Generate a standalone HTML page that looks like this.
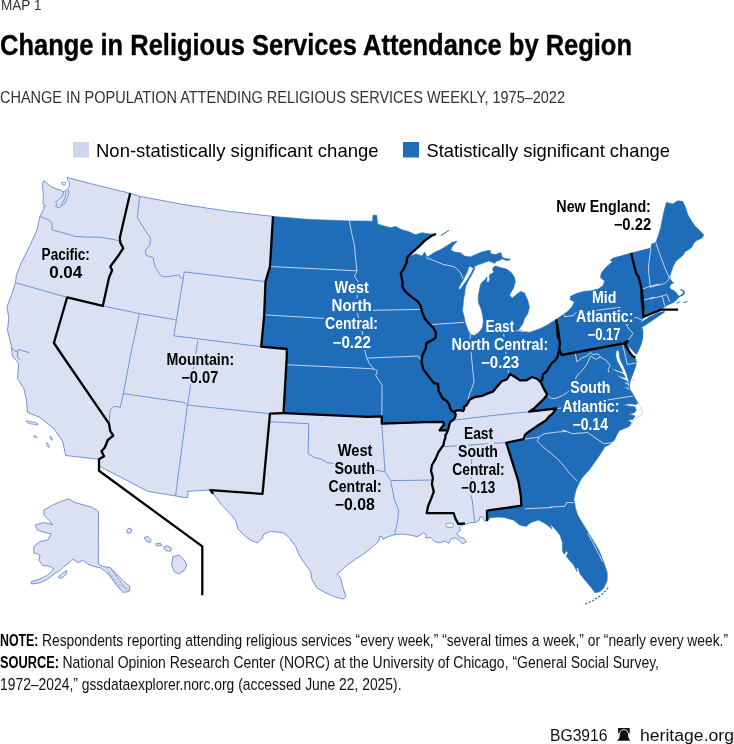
<!DOCTYPE html>
<html><head><meta charset="utf-8"><title>Change in Religious Services Attendance by Region</title>
<style>html,body{margin:0;padding:0;background:#fff}svg{display:block}text{font-family:"Liberation Sans",sans-serif}</style></head>
<body><svg width="734" height="744" viewBox="0 0 734 744">
<defs>
<filter id="hL" color-interpolation-filters="sRGB" x="-10%" y="-30%" width="120%" height="160%"><feMorphology in="SourceAlpha" operator="dilate" radius="2.2" result="d"/><feFlood flood-color="#dbe1f3"/><feComposite in2="d" operator="in"/><feMerge><feMergeNode/><feMergeNode in="SourceGraphic"/></feMerge></filter>
<filter id="hD" color-interpolation-filters="sRGB" x="-10%" y="-30%" width="120%" height="160%"><feMorphology in="SourceAlpha" operator="dilate" radius="2.2" result="d"/><feFlood flood-color="#1f6db9"/><feComposite in2="d" operator="in"/><feMerge><feMergeNode/><feMergeNode in="SourceGraphic"/></feMerge></filter>
</defs>
<rect width="734" height="744" fill="#fff"/>
<g id="map">
<path d="M43.9,180.6 L50.4,186.3 L57,189.2 L60.2,189.8 L62.7,191.7 L64.7,191.1 L66.8,189.6 L68.4,187.6 L69.4,185.5 L69.6,183.1 L67.8,180.6 L67.2,177.4 L90,183.5 L130.1,193.3 L139.6,196.3 L184,204.6 L229.1,211.4 L273,216.4 L270,266.5 L265.5,281.6 L264.2,315.4 L261.2,346.7 L286.8,349 L286.8,356 L283.5,413.2 L368,416.9 L381.8,416.4 L381.8,423.7 L425,422.2 L443.1,421.9 L444.1,424.3 L442,427 L439.6,430.4 L447.8,430.4 L448.5,428.4 L449.2,425 L450.2,422.2 L452.2,420.5 L454.3,418.8 L455.3,416.8 L455.7,414.1 L454,412 L456.3,410.7 L459.7,410.1 L463.1,411 L464.2,409.3 L463.8,406.9 L466.6,405.2 L468.3,402.5 L469.3,400.1 L472,398.4 L475,397 L482.3,395.8 L488,393.4 L492.9,391.7 L497,386.8 L501.9,381.1 L506.8,379.5 L510.1,374.1 L515,377 L519.9,380.3 L526.5,380.3 L532.2,377 L537.4,379 L540.7,382.3 L544,388.9 L547.2,394.6 L544,398.7 L539,403.6 L534.1,408.5 L529.2,411.7 L542.3,410.1 L556.2,408.5 L552.9,413.4 L548.9,416.6 L545.6,420.7 L539,424.8 L534.1,428.1 L529.2,431.4 L525.1,434.6 L523.5,439.2 L506.3,442.8 L518.4,481.3 L520.9,496.4 L521.4,505.7 L490,510.1 L486.9,510.8 L487.1,520.9 L486.9,521.3 L484.4,520.9 L482.8,517.2 L480.4,516.3 L479.2,520.4 L476.3,522.1 L469.7,522.9 L464.8,524.5 L461.6,525.3 L459.1,527 L460.7,530.2 L456.6,533.5 L459.1,536.8 L464,538.4 L466.5,541.7 L462.4,543.8 L459.1,540.1 L455,537.9 L450.9,539.2 L448.5,543.3 L445.2,540.9 L440.3,542.8 L434.6,541.7 L430.5,537.6 L425.6,537.9 L426.4,535.1 L423.1,532.7 L420.7,534.7 L417.4,536.8 L410.9,535.1 L402.7,534 L394.5,534.7 L388,536.8 L382.8,539.2 L381.4,536 L379,536.8 L379.8,539.2 L376.5,543.3 L370,549 L362,555.2 L355.7,559 L346.9,565.2 L341.9,570.2 L336.9,574 L340.7,577.8 L342.4,585.3 L345.7,596.6 L343.2,599.1 L334.4,596.6 L325.6,592.8 L316.9,587.8 L311.8,579 L310.6,571.5 L304.3,562.7 L299.3,555.2 L295.6,546.4 L289.3,537.7 L283,532.6 L270.5,531.4 L264.2,533.9 L261.7,538.9 L258,542.7 L252.9,541.4 L245.4,536.4 L237.9,528.9 L235.4,520.1 L230.4,513.8 L221.6,505.1 L215.3,496.3 L210.8,490 L187.8,491.3 L187.8,497.5 L184,497.5 L175.5,495.9 L147.9,491.4 L99.8,466.3 L99,459.3 L65.7,455.5 L62.7,441.2 L53.9,428.7 L40.1,417.4 L27.6,412.4 L26.3,399.9 L23.8,388.6 L17.5,378.6 L18.8,363.5 L12.5,356 L11.3,345.5 L7.5,330.4 L8.8,317.9 L7,306.6 L11.3,295.3 L15.5,282.8 L16.3,275.3 L21.3,262.8 L30.1,245.2 L36.9,230 L39,220.7 L39.8,216.6 L41.9,212.5 L43.9,208.4 L43.5,206.8 L45.5,206 L43.1,204.3 L43.1,199.4 L43.5,194.5 L42.7,189.6 L42.3,184.7 L43.9,180.6Z" fill="#dbe1f3" stroke="#7094d6" stroke-width="1" stroke-linejoin="round"/>
<path d="M68.9,498.8 L75.2,502.6 L84,505.1 L91.5,507.1 L98.5,511.3 L98.3,564 L102.8,566.5 L110.3,567.7 L117.8,575.3 L125.3,582.8 L129.9,586.5 L129.1,591.6 L122.8,592.3 L116.6,585.3 L110.3,576.5 L105.3,571.5 L100.3,567.7 L94,566.5 L87.7,564 L82.7,560.2 L77.7,562.7 L72.7,559 L67.7,564 L63.9,566.5 L60.2,570.2 L53.9,574 L47.6,579 L40.1,582.8 L31.3,584 L31.3,581.5 L40.1,579 L47.6,575.3 L53.9,569 L50.1,566.5 L42.6,565.2 L38.9,560.2 L40.1,555.2 L33.8,552.7 L33.8,546.4 L40.1,541.4 L47.6,540.2 L51.4,533.9 L45.1,532.6 L37.6,530.1 L35.1,525.1 L43.9,522.6 L50.1,523.9 L52.6,525.1 L48.9,520.1 L43.9,515.1 L43.9,510.1 L52.6,505.1 L61.4,501.3Z" fill="#dbe1f3" stroke="#7094d6" stroke-width="1" stroke-linejoin="round"/>
<path d="M58.2,577.3 L62.7,572.8 L66.7,570.7 L65.7,574.8 L61.4,578.3Z" fill="#dbe1f3" stroke="#7094d6" stroke-width="1" stroke-linejoin="round"/>
<path d="M440.5,235.3L444,233L448.7,230L449,230.8L445,233.6L441,235.9Z" fill="#1f6db9"/>
<path d="M26.3,420.7 L31.3,421.7 L37.6,423.2 L38.1,424.7 L32.1,424.2 L27.1,422.7Z" fill="#dbe1f3" stroke="#7094d6" stroke-width="0.8" stroke-linejoin="round"/>
<path d="M33.8,435.7 L36.6,436.2 L36.9,437.7 L34.3,437.2Z" fill="#dbe1f3" stroke="#7094d6" stroke-width="0.8" stroke-linejoin="round"/>
<path d="M46.6,442.5 L48.6,444.2 L49.1,447.7 L47.1,446.2Z" fill="#dbe1f3" stroke="#7094d6" stroke-width="0.8" stroke-linejoin="round"/>
<path d="M49.6,436.2 L52.1,437.7 L52.6,440.2 L50.4,439.2Z" fill="#dbe1f3" stroke="#7094d6" stroke-width="0.8" stroke-linejoin="round"/>
<path d="M126.6,530.1 L129.1,528.1 L131.9,529.6 L130.9,532.6 L127.8,533.1Z" fill="#dbe1f3" stroke="#7094d6" stroke-width="1" stroke-linejoin="round"/>
<path d="M144.1,537.7 L147.9,536.4 L150.9,539.7 L149.9,542.7 L146.6,541.4Z" fill="#dbe1f3" stroke="#7094d6" stroke-width="1" stroke-linejoin="round"/>
<path d="M155.4,543.9 L160.4,543.2 L161.7,545.7 L156.7,545.9Z" fill="#dbe1f3" stroke="#7094d6" stroke-width="1" stroke-linejoin="round"/>
<path d="M163.4,547.2 L167.5,545.7 L171.5,548.2 L170.5,551.2 L166,550.7Z" fill="#dbe1f3" stroke="#7094d6" stroke-width="1" stroke-linejoin="round"/>
<path d="M173,556.5 L179.2,555.2 L184,559.7 L186.8,565.2 L184,570.7 L178.5,574 L174.2,571.5 L171.7,565.2Z" fill="#dbe1f3" stroke="#7094d6" stroke-width="1" stroke-linejoin="round"/>
<path d="M273,216.4 L309.3,219.4 L349.4,220.9 L368,221.1 L372.5,221.4 L373,215.1 L376.8,215.6 L377.5,223.9 L383,225.7 L390.6,227.7 L395.6,226.4 L401.8,229.7 L408.1,231.4 L415.6,234.7 L421.9,232.7 L429.4,233.9 L436,234 L431.1,236 L424.5,240.9 L418,247.4 L412.3,252.3 L407.4,256.9 L416.3,253.9 L422.1,256.1 L424.5,252 L427,256.9 L430.2,255.2 L435.1,252 L440.9,249.5 L447.4,245.4 L452.3,242.2 L457.2,241.3 L453.1,245.4 L450.7,249.5 L454,252 L460.5,252.8 L464.6,256.1 L470.3,256.9 L476,254.4 L481.7,252 L489.1,250.3 L490.1,250.4 L490.9,253.7 L495.8,254.5 L499,253.3 L500.8,252.5 L502.3,257.4 L507.2,259 L510,258.8 L510,260 L506.4,260.5 L502.3,258.8 L499,260.6 L495.8,261.4 L494.8,263.5 L492.5,262.3 L488.4,261 L485.1,262.3 L481.9,263.5 L477,265.1 L474.5,266.8 L473.3,268.6 L472.1,267.6 L470,266.2 L468.6,267.6 L467.6,271.3 L465.5,275.3 L463.1,280.2 L460.6,284.3 L458.6,288 L459.4,289.8 L461.4,287.8 L463.5,284.7 L466.3,281.1 L468.6,277.4 L470.4,274.4 L471.9,271.4 L473.7,268.1 L474.5,267.3 L474.4,269.2 L472.5,273.3 L470.4,277 L468.1,281.1 L466.2,285.1 L465.1,289.2 L464.7,294.1 L463.5,299 L463.1,305.6 L462.3,310 L464.1,316.6 L465.4,323.1 L467.8,329.6 L470.3,334.5 L474.4,335.5 L479.3,332.1 L482.6,327.2 L483.4,321.5 L482.6,314.9 L481.4,310 L481.5,310 L478.6,303.1 L478.2,299 L478.6,294.1 L479.6,289.2 L480.4,285.1 L482.3,282 L485.1,279.6 L486.9,277 L486.9,281.9 L488.4,282.9 L489.7,279.4 L489.2,275.5 L490.9,273.9 L494.1,272.2 L492.5,269.6 L493.3,267.3 L495.8,265.9 L499,267.2 L506.3,269.1 L511.2,272.4 L514.4,277.3 L515.3,282.2 L513.6,287.9 L511.2,292 L509.5,295.3 L512.3,298 L516.3,294.8 L520.4,291.5 L524.5,293.1 L527.8,300.5 L529.4,307 L527.8,313.6 L524.5,318.5 L522.9,323.4 L519.6,328.3 L518,329.9 L524.5,331.6 L529.4,332.4 L534.3,330.7 L540.9,328.3 L547.4,325 L552.3,321.7 L556.4,319.3 L562.1,315.2 L567,311.9 L571.9,307 L574.4,302.1 L570.3,299.7 L570.3,296.4 L575.2,294 L583.4,291.5 L591.6,290.7 L598.1,289 L603,285.8 L604.6,280.9 L600.5,277.6 L601.4,272.7 L606.3,267 L612.8,261.3 L610,260.4 L613.3,257.9 L619.8,256.3 L631.3,253 L650.9,248.1 L651.7,244 L655.8,242.4 L658.2,235.9 L660.7,227.7 L662.3,219.5 L664,211.3 L666.4,202.4 L672.9,204 L677.8,200.7 L682.8,201.5 L685.2,206.4 L687.7,214.6 L691.7,221.2 L695,226.1 L699.1,230.1 L704,235.1 L701.6,238.3 L697.5,240 L694.2,242.4 L691.7,247.3 L688.5,249.8 L685.2,251.4 L682.8,255.5 L678.7,258.8 L675.4,262 L672.9,266.9 L671.3,271.8 L669.7,276.7 L669.6,274.9 L670.4,279 L672.2,282.1 L673.9,282.7 L672.1,283.5 L670.4,284.9 L669.6,287.6 L671.3,289.6 L673.7,290.4 L675.7,292.1 L677.4,294.5 L678.8,296 L681.5,296 L683.7,294.8 L684.8,292.9 L683.8,290.7 L681.7,289.5 L680.4,289.8 L682.3,290.6 L683.4,292.2 L682.9,294 L681.1,294.8 L679.4,297 L677.6,298.6 L675.5,301.1 L673.1,302.7 L670.4,303.7 L667.6,305.1 L664.7,306.8 L662.3,308.4 L659.8,309.9 L656.8,310.3 L650.3,312.9 L644.6,316.2 L643.4,317.8 L640.8,321.9 L641.3,325.1 L642.9,330.9 L642.9,337.4 L641.3,344 L638.9,349.7 L636.4,354.6 L633.5,351.4 L630.4,348.3 L628.3,344.6 L629.2,350.7 L632.5,355.7 L635.3,357.9 L636.4,361.9 L635.6,366.8 L633.1,373.4 L630.7,379.9 L629,386.5 L628.6,390.1 L630,388.8 L629.3,386.3 L628.4,380.2 L627.1,375.3 L625.3,370.4 L623.4,366.1 L621.2,361.8 L619.5,356.9 L618.9,351.4 L617.5,349.8 L616.3,351.4 L615.7,355.7 L616.9,360.6 L618.8,364.2 L621.2,368.5 L622.7,372.2 L616.3,370.1 L610.2,367.9 L616.3,371.6 L623.4,374 L625.5,377.7 L620,376.5 L615.1,373.4 L620,377.7 L626.7,380.8 L627.6,383.2 L621.8,381.6 L628,385.1 L628.6,387.5 L623.7,386.9 L629.2,390 L630.8,390.5 L633.9,396 L636.3,400.2 L638.1,403.2 L636.3,404.4 L629,403.8 L623,405 L630.2,406.2 L635.1,406.9 L636.3,410.5 L633.9,412.9 L628.4,413.9 L635.1,415.9 L632.7,419.6 L627.6,419.9 L631.5,422.6 L630.2,425.6 L627.2,427.4 L624.2,428.6 L619.4,430.4 L616.9,434.7 L614.5,440 L608.9,445 L605.1,446.7 L598.9,456.3 L590.1,468.8 L581.3,478.8 L576.3,488.9 L573.8,498.9 L575.1,506.4 L573.8,502.6 L577.6,515.1 L585.1,527.6 L591.4,537.7 L598.9,550.2 L603.9,562.7 L607.2,572.8 L607.2,580.3 L603.9,587.8 L600.1,591.6 L595.1,592.8 L591.4,587.8 L585.1,580.3 L580.1,574 L578.3,568.2 L576.1,567.7 L577.1,571.7 L573.8,565.2 L566.3,556.5 L568,552.7 L565.8,550.7 L564.5,554.5 L562.5,551.4 L562.5,542.7 L560,535.1 L553.8,527.6 L550,523.9 L552,528.9 L546,523.9 L538.5,520.1 L530.9,522.6 L525.9,526.4 L519.7,525.1 L513.4,520.1 L504.6,517.6 L498.4,517.1 L490.8,517.6 L488.3,520.1 L486.9,510.8 L490,510.1 L521.4,505.7 L520.9,496.4 L518.4,481.3 L506.3,442.8 L523.5,439.2 L525.1,434.6 L529.2,431.4 L534.1,428.1 L539,424.8 L545.6,420.7 L548.9,416.6 L552.9,413.4 L556.2,408.5 L542.3,410.1 L529.2,411.7 L534.1,408.5 L539,403.6 L544,398.7 L547.2,394.6 L544,388.9 L540.7,382.3 L537.4,379 L532.2,377 L526.5,380.3 L519.9,380.3 L515,377 L510.1,374.1 L506.8,379.5 L501.9,381.1 L497,386.8 L492.9,391.7 L488,393.4 L482.3,395.8 L475,397 L472,398.4 L469.3,400.1 L468.3,402.5 L466.6,405.2 L463.8,406.9 L464.2,409.3 L463.1,411 L459.7,410.1 L456.3,410.7 L454,412 L455.7,414.1 L455.3,416.8 L454.3,418.8 L452.2,420.5 L450.2,422.2 L449.2,425 L448.5,428.4 L447.8,430.4 L447.8,430.4 L439.6,430.4 L442,427 L444.1,424.3 L443.1,421.9 L425,422.2 L381.8,423.7 L381.8,416.4 L368,416.9 L283.5,413.2 L286.8,356 L286.8,349 L261.2,346.7 L264.2,315.4 L265.5,281.6 L270,266.5 L273,216.4Z" fill="#1f6db9" stroke="#1f6db9" stroke-width="0.6" stroke-linejoin="round"/>
<path d="M635.7,325.4 L641.8,321.5 L650,316.3 L658.2,312.6 L664.3,310.9 L665.1,312 L662.3,314.1 L654.9,319 L650,322.3 L643.5,326.4 L636.9,328.9 L634.5,328.4Z" fill="#1f6db9"/>
<path d="M676.3,303.1 L678.2,302 L680.2,301.4 L680.4,302 L678.4,302.9 L676.8,303.7Z" fill="#1f6db9"/>
<path d="M682.9,302.4 L685.1,301.7 L687.2,300.4 L687.8,301.1 L686,302.4 L683.5,302.9Z" fill="#1f6db9"/>
<ellipse cx="449.6" cy="525.3" rx="4" ry="2.3" fill="#fff" stroke="#7094d6" stroke-width="1"/>
<path d="M585.1,604.1 L592.6,600.8 L600.1,595.8 L606.4,590.3 L608.2,587.3" fill="none" stroke="#1f6db9" stroke-width="1.2" stroke-dasharray="2.2 1.6"/>
<path d="M106.5,568.2 L112.8,576.5 L120.3,585.3 L126.6,590.3" fill="none" stroke="#7094d6" stroke-width="0.7" stroke-dasharray="3 1"/>
<path d="M110.3,568.2 L117.3,578.3 L124.1,586.5 L128.3,589.8" fill="none" stroke="#7094d6" stroke-width="0.7" stroke-dasharray="3 1"/>
<path d="M108.3,572.3 L114.1,580.8 L120.8,589" fill="none" stroke="#7094d6" stroke-width="0.7" stroke-dasharray="3 1"/>
<path d="M113.3,570.7 L119.1,579.8 L125.3,587.8" fill="none" stroke="#7094d6" stroke-width="0.7" stroke-dasharray="3 1"/>
<path d="M39.8,216.6 L42.3,217.4 L46.3,219 L50.4,221.1 L52.1,224 L52.2,230 L62.7,232.7 L75.2,236.4 L87.7,237.2 L100.3,237.2 L119.8,240.7" fill="none" stroke="#7094d6" stroke-width="1" stroke-linejoin="round"/>
<path d="M15.5,282.8 L67.2,297.3" fill="none" stroke="#7094d6" stroke-width="1" stroke-linejoin="round"/>
<path d="M102.8,305.9 L139.4,313.6 L175.5,319.7" fill="none" stroke="#7094d6" stroke-width="1" stroke-linejoin="round"/>
<path d="M139.6,196.3 L137.9,211.4 L137.4,217.6 L146.6,232.7 L150.4,237.7 L149.9,245.2 L145.4,250.2 L146.1,255.2 L152.9,257.7 L155.4,267.8 L156.7,269 L159.5,273.8 L162.4,276.7 L169,276.7 L173.8,275.7 L178.6,274.8 L180.5,277.7 L183.2,278.6" fill="none" stroke="#7094d6" stroke-width="1" stroke-linejoin="round"/>
<path d="M184.3,271.9 L265.5,281.6" fill="none" stroke="#7094d6" stroke-width="1" stroke-linejoin="round"/>
<path d="M139.4,313.6 L130.4,356 L123.3,393.6" fill="none" stroke="#7094d6" stroke-width="1" stroke-linejoin="round"/>
<path d="M123.3,393.6 L184,402.4 L187.5,405.1" fill="none" stroke="#7094d6" stroke-width="1" stroke-linejoin="round"/>
<path d="M123.3,393.6 L120.3,407.4 L114.1,406.1 L110.3,409.9 L109,423.7" fill="none" stroke="#7094d6" stroke-width="1" stroke-linejoin="round"/>
<path d="M197.8,340.5 L187.5,405.1 L175.5,495.9" fill="none" stroke="#7094d6" stroke-width="1" stroke-linejoin="round"/>
<path d="M187.5,405.1 L270,413.7" fill="none" stroke="#7094d6" stroke-width="1" stroke-linejoin="round"/>
<path d="M270,421.7 L308.8,423.7 L308.1,453.8 L314.4,457.5 L320.6,458.8 L326.9,462.5 L334.4,463.8 L344.4,466.3 L354.5,467.6 L364.5,470.1 L375.5,470.1 L385,471.8 L390.6,480.6 L394.5,500" fill="none" stroke="#7094d6" stroke-width="1" stroke-linejoin="round"/>
<path d="M381.8,423.7 L385,471.8" fill="none" stroke="#7094d6" stroke-width="1" stroke-linejoin="round"/>
<path d="M391.1,480.6 L430.7,480.1" fill="none" stroke="#7094d6" stroke-width="1" stroke-linejoin="round"/>
<path d="M443.2,446.7 L507.1,442.5" fill="none" stroke="#7094d6" stroke-width="1" stroke-linejoin="round"/>
<path d="M472,445 L470.8,496.4 L472.2,500 L474.6,521.3" fill="none" stroke="#7094d6" stroke-width="1" stroke-linejoin="round"/>
<path d="M452,421.7 L455.7,419.9 L490,415.8 L529.2,411.7" fill="none" stroke="#7094d6" stroke-width="1" stroke-linejoin="round"/>
<path d="M394.5,500 L398.6,509.8 L397.8,519.6 L396.2,527.8 L394.5,534.7" fill="none" stroke="#7094d6" stroke-width="1" stroke-linejoin="round"/>
<path d="M63.5,192.1 L62.7,196.2 L58.6,199.4 L55.7,202.7 L57,204.3 L55.7,206.4 L59.4,208 L61.1,206 L64.3,204.3 L66,201.1 L67.6,197 L68.8,193.7 L68.4,189.6" fill="none" stroke="#7094d6" stroke-width="1" stroke-linejoin="round"/>
<path d="M65.1,191.4 L66,194.5 L64.7,198.6 L62.7,202.7 L60.7,205.1" fill="none" stroke="#7094d6" stroke-width="1" stroke-linejoin="round"/>
<path d="M61.5,182.7 L63.9,182.3 L66,183.1 L64.3,185.5 L62.7,184.7 L61.5,182.7" fill="none" stroke="#7094d6" stroke-width="1" stroke-linejoin="round"/>
<path d="M184.3,271.9 L173.8,335.8 L261.2,346.7" fill="none" stroke="#7094d6" stroke-width="1" stroke-linejoin="round"/>
<path d="M11.4,347.8 L16.3,352 L18,349.5 L21.3,350.3 L29.4,352.7" fill="none" stroke="#7094d6" stroke-width="1" stroke-linejoin="round"/>
<path d="M18,350.3 L17.2,356.8 L20.4,360.1" fill="none" stroke="#7094d6" stroke-width="1" stroke-linejoin="round"/>
<path d="M638.1,403.2 L641.1,407.5 L642.6,411.7 L641.4,415.3 L636.9,417.7 L632.7,421.4 L630.8,425" fill="none" stroke="#c6d2ef" stroke-width="1" stroke-linejoin="round"/>
<path d="M270,266.5 L357,270.8" fill="none" stroke="#c6d2ef" stroke-width="1" stroke-linejoin="round"/>
<path d="M265.5,314.9 L324.4,318.4 L338,319 L345,320 L352,323 L358,327 L362,330" fill="none" stroke="#c6d2ef" stroke-width="1" stroke-linejoin="round"/>
<path d="M349.4,220.9 L351.5,232.7 L354.5,245.2 L355.7,260.2 L357,270.8 L354.5,276.5 L358.2,281.6 L357,295.5 L357.8,301.3 L357,310.6 L358.6,318.4 L361.9,327.4 L362,330 L365.1,351.9 L366.8,358.1 L369.2,363.4 L374.1,369.1 L377.4,370.7 L375.8,375.6 L379,380.5 L382,384.6 L382,400 L381.8,416.4" fill="none" stroke="#c6d2ef" stroke-width="1" stroke-linejoin="round"/>
<path d="M357,310.6 L419.9,309.4" fill="none" stroke="#c6d2ef" stroke-width="1" stroke-linejoin="round"/>
<path d="M366.8,358.1 L418.3,356 L420.7,360.1" fill="none" stroke="#c6d2ef" stroke-width="1" stroke-linejoin="round"/>
<path d="M286.8,364.8 L368,368.5 L374.1,369.1" fill="none" stroke="#c6d2ef" stroke-width="1" stroke-linejoin="round"/>
<path d="M431.4,324.5 L450,323.3 L464.3,322.3" fill="none" stroke="#c6d2ef" stroke-width="1" stroke-linejoin="round"/>
<path d="M426.2,257.7 L432.7,260.1 L442.5,264.2 L454,266.7 L457.2,269.1 L461.3,274 L462.9,279" fill="none" stroke="#c6d2ef" stroke-width="1" stroke-linejoin="round"/>
<path d="M470.1,334.5 L470.9,350.9 L473.3,375.4 L474.1,381.9 L471.7,388.5 L469.2,395 L467.9,399.6" fill="none" stroke="#c6d2ef" stroke-width="1" stroke-linejoin="round"/>
<path d="M503.6,333.7 L506,354.1 L508.5,372.9" fill="none" stroke="#c6d2ef" stroke-width="1" stroke-linejoin="round"/>
<path d="M515.3,330.6 L519.1,330.9 L524.5,331.6" fill="none" stroke="#c6d2ef" stroke-width="1" stroke-linejoin="round"/>
<path d="M655.8,242.4 L659,252.2 L664,265.3 L668,275.1 L670.2,279.2" fill="none" stroke="#c6d2ef" stroke-width="1" stroke-linejoin="round"/>
<path d="M650.9,248.1 L650.1,253.9 L649.2,260.4 L648.4,268.6 L649.2,276.7 L650.1,285.7" fill="none" stroke="#c6d2ef" stroke-width="1" stroke-linejoin="round"/>
<path d="M642.7,289 L650.1,286.2 L659,284.1 L650,287.2 L664.7,283.5 L669.2,279.2 L670.4,275.1" fill="none" stroke="#c6d2ef" stroke-width="1" stroke-linejoin="round"/>
<path d="M642.7,300.4 L654.1,297.2 L650,299 L662.3,296 L666.8,294.5 L668.4,298.2 L669.6,301.9" fill="none" stroke="#c6d2ef" stroke-width="1" stroke-linejoin="round"/>
<path d="M662.3,296 L664.7,306" fill="none" stroke="#c6d2ef" stroke-width="1" stroke-linejoin="round"/>
<path d="M563.8,314.4 L564.6,316.8 L573.6,315.5 L575.1,312.9 L620.2,307.4 L626.6,325.1 L629,329.2 L633.1,333.3 L629.9,338.2 L627.4,341.5" fill="none" stroke="#c6d2ef" stroke-width="1" stroke-linejoin="round"/>
<path d="M627.1,325.6 L635.6,317 L642.9,320.7" fill="none" stroke="#c6d2ef" stroke-width="1" stroke-linejoin="round"/>
<path d="M622.8,344.6 L627.3,364.5 L635.6,363" fill="none" stroke="#c6d2ef" stroke-width="1" stroke-linejoin="round"/>
<path d="M556.2,408.5 L575,406.8 L609.7,399.6 L632.7,396" fill="none" stroke="#c6d2ef" stroke-width="1" stroke-linejoin="round"/>
<path d="M523.5,439.2 L539,437.1 L544,433.8 L555.4,432.2 L566.8,431.4 L562.5,430 L572.6,433.7 L587.6,432.5 L603.9,443.7 L612.7,442.5" fill="none" stroke="#c6d2ef" stroke-width="1" stroke-linejoin="round"/>
<path d="M539,437.1 L537.4,441.2 L544,447.7 L550,452.5 L560,461.3 L570.1,473.8 L577.6,481.3" fill="none" stroke="#c6d2ef" stroke-width="1" stroke-linejoin="round"/>
<path d="M524.7,508.8 L552,507.6 L550,507.1 L565,506.3 L566.3,502.6 L573.8,502.6" fill="none" stroke="#c6d2ef" stroke-width="1" stroke-linejoin="round"/>
<path d="M600.6,357.1 L595.5,359.3 L590.6,355.7 L586.9,364.2 L583.2,369.4 L578.3,374 L575.8,378 L573.4,386.3 L567.3,392.4 L562.4,395.5 L555,398.6 L550.7,398.3 L547.2,394.6" fill="none" stroke="#c6d2ef" stroke-width="1" stroke-linejoin="round"/>
<path d="M575.2,352.6 L576.8,361.8 L581.4,358.4 L586.9,355.7 L590.8,352.6 L593,354.7 L597.9,353.8 L600.6,357.1 L606.5,360.6 L610.2,365.5 L608,369.1 L609.2,372.6" fill="none" stroke="#c6d2ef" stroke-width="1" stroke-linejoin="round"/>
<path d="M629.8,380.8 L634.7,379.6" fill="none" stroke="#c6d2ef" stroke-width="1" stroke-linejoin="round"/>
<path d="M587.6,533.1 L592.1,541.4 L598.1,552.7 L602.6,561.7" fill="none" stroke="#c6d2ef" stroke-width="1" stroke-linejoin="round"/>
<path d="M130.1,193.3 L119.8,237.7 L120.3,242.7 L123.3,248.2 L117.8,256.5 L110.3,266.5 L112.1,270.3 L109,277.8 L102.8,305.9 L67.2,297.3 L53.9,343 L62.7,356 L109,423.7 L110.3,431.2 L113.3,435.7 L107.8,440 L104.8,447.5 L101.5,451.3 L104,456.3 L99,459.3 L99,470.8 L202.3,546.4 L202.3,595.3" fill="none" stroke="#000" stroke-width="2.3" stroke-linejoin="round" stroke-linecap="butt"/>
<path d="M273,216.4 L270,266.5 L265.5,281.6 L264.2,315.4 L261.2,346.7 L286.8,349 L286.8,356 L283.5,413.2" fill="none" stroke="#000" stroke-width="2.3" stroke-linejoin="round" stroke-linecap="butt"/>
<path d="M283.5,413.2 L270,413.7 L262.5,493.9 L210.3,490.1 L213.1,493.9" fill="none" stroke="#000" stroke-width="2.3" stroke-linejoin="round" stroke-linecap="butt"/>
<path d="M283.5,413.2 L368,416.9 L381.8,416.4 L381.8,423.7 L425,422.2 L443.1,421.9 L444.1,424.3 L442,427 L439.6,430.4 L447.8,430.4" fill="none" stroke="#000" stroke-width="2.3" stroke-linejoin="round" stroke-linecap="butt"/>
<path d="M454,412 L455.7,414.1 L455.3,416.8 L454.3,418.8 L452.2,420.5 L450.2,422.2 L449.2,425 L448.5,428.4 L447.8,430.4 L446.8,433.1 L445.4,435.2 L445.4,437.6 L444.4,440.3 L443.4,445 L438.5,452 L435.7,458.6 L431.9,465.2 L431,470.9 L432.9,477.4 L431.9,484 L433.8,491.6 L431,499.1 L428.2,505.7 L426.7,513.2 L453.6,513.2 L455.5,518.8 L458.3,523.9 L464.9,523.5" fill="none" stroke="#000" stroke-width="2.3" stroke-linejoin="round" stroke-linecap="butt"/>
<path d="M407.4,256.9 L406.5,262.6 L404.1,268.3 L400.8,273.2 L401.6,277.3 L402.5,282.2 L402.5,287.1 L405.7,292 L411.4,296.9 L417.2,301 L420.4,305.1 L422.1,311.6 L424.5,318.2 L428.6,323.1 L433.5,328 L436,332.9 L435.5,337.8 L433,339.7 L426.5,342.9 L425.6,348.7 L422.4,355.2 L421.6,361.7 L423.2,369.1 L428.1,375.6 L433.8,383 L437.9,383.8 L438.7,391.2 L442,396.9 L442,397.7 L446.8,401.1 L449.2,404.5 L449.9,407.9 L451.6,410.7 L454,412" fill="none" stroke="#000" stroke-width="2.3" stroke-linejoin="round" stroke-linecap="butt"/>
<path d="M454,412 L456.3,410.7 L459.7,410.1 L463.1,411 L464.2,409.3 L463.8,406.9 L466.6,405.2 L468.3,402.5 L469.3,400.1 L472,398.4 L475,397 L482.3,395.8 L488,393.4 L492.9,391.7 L497,386.8 L501.9,381.1 L506.8,379.5 L510.1,374.1 L515,377 L519.9,380.3 L526.5,380.3 L532.2,377 L537.4,379 L540.7,382.3 L544,388.9 L547.2,394.6 L544,398.7 L539,403.6 L534.1,408.5 L529.2,411.7 L542.3,410.1 L556.2,408.5 L552.9,413.4 L548.9,416.6 L545.6,420.7 L539,424.8 L534.1,428.1 L529.2,431.4 L525.1,434.6 L523.5,439.2 L506.3,442.8 L518.4,481.3 L520.9,496.4 L521.4,505.7 L490,510.1 L486.9,510.8 L487.1,520.9" fill="none" stroke="#000" stroke-width="2.3" stroke-linejoin="round" stroke-linecap="butt"/>
<path d="M556.4,319.3 L558,338.1 L557.5,325 L559.9,343.4 L559.3,349.5 L557.5,356.9 L555,360.6 L552.1,362.7 L548.9,367.6 L546.4,371.7 L543.1,374.1 L542.3,379 L540.7,382.3" fill="none" stroke="#000" stroke-width="2.3" stroke-linejoin="round" stroke-linecap="butt"/>
<path d="M559.3,349.5 L561.7,355 L623.7,343.4 L627.6,340.9 L625.3,344.9 L628.6,350.7 L632.2,355.7 L635.3,357.6" fill="none" stroke="#000" stroke-width="2.3" stroke-linejoin="round" stroke-linecap="butt"/>
<path d="M631.3,253 L632.9,260.4 L634.5,266.9 L636.2,273.5 L638.6,276.7 L640.2,283.3 L641.9,289.8 L642.7,299.6 L643.5,309.4 L641.3,290 L641.8,299.8 L642.9,309.6 L643.4,317 L650.3,314 L661.4,309.6 L678.1,309.6" fill="none" stroke="#000" stroke-width="2.3" stroke-linejoin="round" stroke-linecap="butt"/>
<path d="M436,234 L431.1,236 L424.5,240.9 L418,247.4 L412.3,252.3 L407.4,256.9" fill="none" stroke="#000" stroke-width="2.3" stroke-linejoin="round" stroke-linecap="butt"/>
</g>
<g id="labels">
<text x="1" y="10.2" font-size="14.8" font-weight="normal" fill="#333" text-anchor="start" textLength="40.5" lengthAdjust="spacingAndGlyphs">MAP 1</text>
<text x="0" y="54.6" font-size="28.6" font-weight="bold" fill="#000" text-anchor="start" textLength="632" lengthAdjust="spacingAndGlyphs" stroke="#000" stroke-width="0.35">Change in Religious Services Attendance by Region</text>
<text x="0" y="102.5" font-size="16.2" font-weight="normal" fill="#333" text-anchor="start" textLength="565" lengthAdjust="spacingAndGlyphs">CHANGE IN POPULATION ATTENDING RELIGIOUS SERVICES WEEKLY, 1975–2022</text>
<rect x="73" y="142" width="16" height="15.5" fill="#ccd6ee"/>
<text x="96" y="156.8" font-size="18.4" font-weight="normal" fill="#000" text-anchor="start" textLength="282.5" lengthAdjust="spacingAndGlyphs">Non-statistically significant change</text>
<rect x="403" y="142" width="16" height="15.5" fill="#1f6db9"/>
<text x="426.5" y="156.8" font-size="18.4" font-weight="normal" fill="#000" text-anchor="start" textLength="243.5" lengthAdjust="spacingAndGlyphs">Statistically significant change</text>
<text x="41.6" y="259.7" font-size="15.6" font-weight="bold" fill="#000" text-anchor="start" textLength="48.3" lengthAdjust="spacingAndGlyphs" filter="url(#hL)">Pacific:</text>
<text x="49.2" y="277.7" font-size="15.6" font-weight="bold" fill="#000" text-anchor="start" textLength="33.1" lengthAdjust="spacingAndGlyphs" filter="url(#hL)">0.04</text>
<text x="166.4" y="364.7" font-size="15.6" font-weight="bold" fill="#000" text-anchor="start" textLength="67.8" lengthAdjust="spacingAndGlyphs" filter="url(#hL)">Mountain:</text>
<text x="181.2" y="382.6" font-size="15.6" font-weight="bold" fill="#000" text-anchor="start" textLength="37.2" lengthAdjust="spacingAndGlyphs" filter="url(#hL)">−0.07</text>
<text x="334.6" y="292.8" font-size="15.6" font-weight="bold" fill="#fff" text-anchor="start" textLength="34.2" lengthAdjust="spacingAndGlyphs" filter="url(#hD)">West</text>
<text x="331.5" y="311.4" font-size="15.6" font-weight="bold" fill="#fff" text-anchor="start" textLength="40.2" lengthAdjust="spacingAndGlyphs" filter="url(#hD)">North</text>
<text x="325.1" y="329.4" font-size="15.6" font-weight="bold" fill="#fff" text-anchor="start" textLength="52.9" lengthAdjust="spacingAndGlyphs" filter="url(#hD)">Central:</text>
<text x="332.6" y="347.9" font-size="15.6" font-weight="bold" fill="#fff" text-anchor="start" textLength="38.2" lengthAdjust="spacingAndGlyphs" filter="url(#hD)">−0.22</text>
<text x="485.5" y="331.5" font-size="15.6" font-weight="bold" fill="#fff" text-anchor="start" textLength="28.7" lengthAdjust="spacingAndGlyphs" filter="url(#hD)">East</text>
<text x="451.6" y="349.5" font-size="15.6" font-weight="bold" fill="#fff" text-anchor="start" textLength="96.7" lengthAdjust="spacingAndGlyphs" filter="url(#hD)">North Central:</text>
<text x="481.0" y="367.8" font-size="15.6" font-weight="bold" fill="#fff" text-anchor="start" textLength="38.2" lengthAdjust="spacingAndGlyphs" filter="url(#hD)">−0.23</text>
<text x="591.9" y="303.1" font-size="15.6" font-weight="bold" fill="#fff" text-anchor="start" textLength="24.4" lengthAdjust="spacingAndGlyphs">Mid</text>
<text x="576.0" y="321.7" font-size="15.6" font-weight="bold" fill="#fff" text-anchor="start" textLength="57.5" lengthAdjust="spacingAndGlyphs" filter="url(#hD)">Atlantic:</text>
<text x="587.6" y="340.1" font-size="15.6" font-weight="bold" fill="#fff" text-anchor="start" textLength="32.9" lengthAdjust="spacingAndGlyphs" filter="url(#hD)">−0.17</text>
<text x="570.3" y="392.9" font-size="15.6" font-weight="bold" fill="#fff" text-anchor="start" textLength="40" lengthAdjust="spacingAndGlyphs" filter="url(#hD)">South</text>
<text x="562.2" y="411.7" font-size="15.6" font-weight="bold" fill="#fff" text-anchor="start" textLength="57.2" lengthAdjust="spacingAndGlyphs" filter="url(#hD)">Atlantic:</text>
<text x="572.6" y="430.1" font-size="15.6" font-weight="bold" fill="#fff" text-anchor="start" textLength="35.3" lengthAdjust="spacingAndGlyphs" filter="url(#hD)">−0.14</text>
<text x="337.7" y="455.8" font-size="15.6" font-weight="bold" fill="#000" text-anchor="start" textLength="34.8" lengthAdjust="spacingAndGlyphs" filter="url(#hL)">West</text>
<text x="334.4" y="473.8" font-size="15.6" font-weight="bold" fill="#000" text-anchor="start" textLength="40.5" lengthAdjust="spacingAndGlyphs" filter="url(#hL)">South</text>
<text x="328.6" y="492.1" font-size="15.6" font-weight="bold" fill="#000" text-anchor="start" textLength="53.1" lengthAdjust="spacingAndGlyphs" filter="url(#hL)">Central:</text>
<text x="334.8" y="510.4" font-size="15.6" font-weight="bold" fill="#000" text-anchor="start" textLength="40" lengthAdjust="spacingAndGlyphs" filter="url(#hL)">−0.08</text>
<text x="463.9" y="438.6" font-size="15.6" font-weight="bold" fill="#000" text-anchor="start" textLength="29.3" lengthAdjust="spacingAndGlyphs" filter="url(#hL)">East</text>
<text x="458.1" y="456.6" font-size="15.6" font-weight="bold" fill="#000" text-anchor="start" textLength="39.8" lengthAdjust="spacingAndGlyphs" filter="url(#hL)">South</text>
<text x="452.3" y="474.9" font-size="15.6" font-weight="bold" fill="#000" text-anchor="start" textLength="52.4" lengthAdjust="spacingAndGlyphs" filter="url(#hL)">Central:</text>
<text x="461.1" y="493.2" font-size="15.6" font-weight="bold" fill="#000" text-anchor="start" textLength="34.1" lengthAdjust="spacingAndGlyphs" filter="url(#hL)">−0.13</text>
<text x="556.3" y="211.8" font-size="15.6" font-weight="bold" fill="#000" text-anchor="start" textLength="94.6" lengthAdjust="spacingAndGlyphs">New England:</text>
<text x="613.7" y="229.9" font-size="15.6" font-weight="bold" fill="#000" text-anchor="start" textLength="37.5" lengthAdjust="spacingAndGlyphs">−0.22</text>
<text x="0" y="645.5" font-size="16.8" font-weight="bold" fill="#000" text-anchor="start" textLength="38.5" lengthAdjust="spacingAndGlyphs">NOTE:</text>
<text x="42" y="645.5" font-size="16.8" font-weight="normal" fill="#111" text-anchor="start" textLength="686" lengthAdjust="spacingAndGlyphs">Respondents reporting attending religious services “every week,” “several times a week,” or “nearly every week.”</text>
<text x="0" y="667.6" font-size="16.8" font-weight="bold" fill="#000" text-anchor="start" textLength="59" lengthAdjust="spacingAndGlyphs">SOURCE:</text>
<text x="62.5" y="667.6" font-size="16.8" font-weight="normal" fill="#111" text-anchor="start" textLength="596.5" lengthAdjust="spacingAndGlyphs">National Opinion Research Center (NORC) at the University of Chicago, “General Social Survey,</text>
<text x="0" y="689.9" font-size="16.8" font-weight="normal" fill="#111" text-anchor="start" textLength="401.5" lengthAdjust="spacingAndGlyphs">1972–2024,” gssdataexplorer.norc.org (accessed June 22, 2025).</text>
<text x="550" y="740.6" font-size="17.4" font-weight="normal" fill="#111" text-anchor="start" textLength="57.5" lengthAdjust="spacingAndGlyphs">BG3916</text>
<text x="640" y="740.6" font-size="17.4" font-weight="normal" fill="#111" text-anchor="start" textLength="94" lengthAdjust="spacingAndGlyphs">heritage.org</text>
<g><path d="M618.1,728.1H629.7V733.5L627.8,732.8H620L618.1,733.5Z" fill="#111"/><path d="M617.2,740.7L618.5,739.1C619.6,737.6 619.6,736 619.9,734C620.3,731.2 621.8,730 623.9,730C626,730 627.5,731.2 627.9,734C628.2,736 628.2,737.6 629.3,739.1L630,740.7Z" fill="#111" stroke="#fff" stroke-width="1.3" paint-order="stroke"/></g>
</g>
</svg></body></html>
